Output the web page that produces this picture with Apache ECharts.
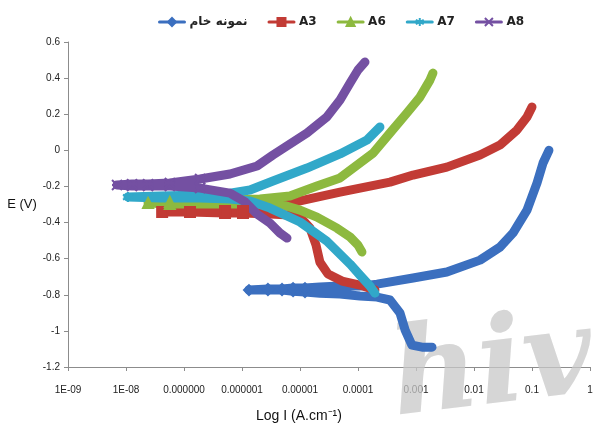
<!DOCTYPE html>
<html>
<head>
<meta charset="utf-8">
<script src="https://cdn.jsdelivr.net/npm/echarts@6/dist/echarts.min.js"></script>
<style>
  html, body { margin: 0; padding: 0; background: #fff; }
  #chart { width: 597px; height: 430px; }
</style>
</head>
<body>
<div id="chart"></div>
<script>
// current density (A.cm-1) and potential (V)
// each curve: cathodic end -> left tip at Ecorr -> anodic end
const rawI = [1.89e-3, 1.27e-3, 8.5e-4, 6.5e-4, 5.3e-4, 3.56e-4, 2.13e-4, 1.08e-4, 4.9e-5, 2.2e-5, 1.22e-5, 7.6e-6, 4.9e-6, 2.8e-6, 1.32e-6,
  2.8e-6, 4.9e-6, 7.6e-6, 1.22e-5, 2.2e-5, 4.9e-5, 1.08e-4, 2.13e-4, 8.9e-4, 3.4e-3, 0.0127, 0.028, 0.047, 0.082, 0.122, 0.155, 0.196];
const rawE = [-1.09, -1.09, -1.079, -0.996, -0.901, -0.829, -0.813, -0.807, -0.796, -0.791, -0.785, -0.78, -0.774, -0.774, -0.774,
  -0.768, -0.768, -0.763, -0.763, -0.757, -0.752, -0.752, -0.741, -0.707, -0.674, -0.608, -0.536, -0.458, -0.331, -0.181, -0.07, 0.0];

const a3I = [1.96e-4, 1.08e-4, 5.3e-5, 3.04e-5, 2.2e-5, 1.89e-5, 1.49e-5, 1.0e-5, 6.7e-6, 3.04e-6, 1.04e-6, 5.1e-7, 1.27e-7, 4.2e-8,
  5.1e-7, 1.04e-6, 3.04e-6, 6.7e-6, 4.9e-5, 3.56e-4, 8.9e-4, 3.4e-3, 0.0127, 0.028, 0.055, 0.082, 0.1];
const a3E = [-0.774, -0.746, -0.724, -0.685, -0.619, -0.525, -0.431, -0.37, -0.358, -0.353, -0.347, -0.347, -0.342, -0.342,
  -0.336, -0.336, -0.325, -0.292, -0.231, -0.176, -0.137, -0.093, -0.026, 0.029, 0.112, 0.184, 0.24];

const a6I = [1.17e-4, 1.0e-4, 7.3e-5, 4.35e-5, 1.96e-5, 1.0e-5, 5.1e-6, 2.04e-6, 6.2e-7, 1.89e-7, 5.7e-8, 2.4e-8,
  5.7e-8, 1.89e-7, 6.2e-7, 2.04e-6, 6.7e-6, 1.96e-5, 4.9e-5, 1.82e-4, 3.56e-4, 7.0e-4, 1.17e-3, 1.74e-3, 1.96e-3];
const a6E = [-0.563, -0.525, -0.48, -0.431, -0.37, -0.331, -0.303, -0.297, -0.297, -0.297, -0.297, -0.292,
  -0.286, -0.281, -0.275, -0.27, -0.253, -0.198, -0.153, -0.015, 0.096, 0.207, 0.295, 0.389, 0.428];

const a7I = [1.96e-4, 1.61e-4, 1.08e-4, 7.3e-5, 2.9e-5, 1.0e-5, 3.04e-6, 1.37e-6, 6.2e-7, 1.89e-7, 3.86e-8, 1.08e-8,
  3.86e-8, 1.89e-7, 6.2e-7, 1.37e-6, 3.42e-6, 1.32e-5, 4.9e-5, 1.43e-4, 2.39e-4];
const a7E = [-0.791, -0.752, -0.691, -0.63, -0.503, -0.397, -0.32, -0.281, -0.27, -0.264, -0.264, -0.259,
  -0.253, -0.248, -0.237, -0.22, -0.17, -0.098, -0.02, 0.057, 0.129];

const a8I = [5.97e-6, 4.5e-6, 3.04e-6, 1.82e-6, 1.13e-6, 6.2e-7, 1.89e-7, 5.7e-8, 2.4e-8, 1.27e-8, 7.0e-9,
  1.27e-8, 2.4e-8, 5.7e-8, 1.89e-7, 6.2e-7, 1.82e-6, 3.42e-6, 1.32e-5, 2.9e-5, 4.9e-5, 7.3e-5, 1.0e-4, 1.32e-4];
const a8E = [-0.486, -0.458, -0.403, -0.353, -0.286, -0.237, -0.209, -0.198, -0.198, -0.198, -0.192,
  -0.187, -0.187, -0.181, -0.159, -0.131, -0.087, -0.026, 0.096, 0.184, 0.279, 0.373, 0.445, 0.489];

const names = ['نمونه خام', 'A3', 'A6', 'A7', 'A8'];
const xLabels = ['1E-09', '1E-08', '0.000000', '0.000001', '0.00001', '0.0001', '0.001', '0.01', '0.1', '1'];

var myChart = echarts.init(document.getElementById('chart'));

// markers only show where the measured points are sparse (low current)
function pts(I, E, upTo, size) {
  return I.map((x, i) => ({ value: [x, E[i]], symbolSize: x < upTo ? size : 0 }));
}

function curve(name, color, symbol, data, size) {
  return {
    name: name,
    type: 'line',
    data: data,
    symbol: symbol,
    symbolSize: size,
    showSymbol: true,
    color: color,
    lineStyle: { width: 9, color: color, cap: 'round', join: 'round' },
    itemStyle: { color: color, borderColor: color, borderWidth: 2 },
    emphasis: { disabled: true },
    z: 3,
    animation: false
  };
}

const star = 'path://M5,0L5,10M0,2.5L10,7.5M0,7.5L10,2.5';
const cross = 'path://M0,0L10,10M0,10L10,0M0,5L10,5';

myChart.setOption({
  animation: false,
  textStyle: { fontFamily: 'Liberation Sans, Arial, sans-serif' },
  legend: {
    left: 153,
    top: 11,
    itemWidth: 25,
    itemHeight: 10,
    itemGap: 20,
    lineStyle: { width: 3 },
    textStyle: { fontSize: 12, fontWeight: 'bold', color: '#222', fontFamily: 'Liberation Sans Narrow, Arial Narrow, DejaVu Sans, sans-serif' },
    data: names
  },
  title: {
    text: 'Log I (A.cm⁻¹)',
    left: 251,
    top: 404,
    textStyle: { fontSize: 14, fontWeight: 'normal', color: '#111', fontFamily: 'Liberation Sans, Arial, sans-serif' }
  },
  grid: { left: 68, right: 7, top: 42, bottom: 63, containLabel: false },
  xAxis: {
    type: 'log',
    logBase: 10,
    min: 1e-9,
    max: 1,
    interval: 1,
    axisLine: { onZero: false, lineStyle: { color: '#8c8c8c', width: 1 } },
    axisTick: { show: true, length: 4, lineStyle: { color: '#8c8c8c' } },
    splitLine: { show: false },
    minorTick: { show: false },
    axisLabel: {
      margin: 18,
      fontSize: 10,
      color: '#222',
      formatter: (v) => xLabels[Math.round(Math.log10(v)) + 9]
    }
  },
  yAxis: {
    type: 'value',
    min: -1.2,
    max: 0.6,
    interval: 0.2,
    name: 'E (V)',
    nameLocation: 'middle',
    nameGap: 28,
    nameRotate: 0,
    nameTextStyle: { fontSize: 13, color: '#111', fontFamily: 'Liberation Sans, Arial, sans-serif', padding: [14, 0, 0, 0] },
    axisLine: { show: true, onZero: false, lineStyle: { color: '#8c8c8c', width: 1 } },
    axisTick: { show: true, length: 4, lineStyle: { color: '#8c8c8c' } },
    splitLine: { show: false },
    axisLabel: {
      margin: 8,
      fontSize: 10,
      color: '#222',
      formatter: (v) => String(Math.round(v * 10) / 10)
    }
  },
  graphic: [{
    type: 'text',
    left: 385,
    top: 300,
    z: 1,
    rotation: 0.12,
    style: {
      text: 'hiv',
      font: 'italic bold 120px DejaVu Serif, serif',
      fill: 'rgba(200,200,200,0.75)'
    }
  }],
  series: [
    curve(names[0], '#3b6fbf', 'diamond', pts(rawI, rawE, 1.5e-5, 10), 10),
    curve(names[1], '#c23b35', 'rect', pts(a3I, a3E, 2e-6, 10), 10),
    curve(names[2], '#8db93f', 'triangle', pts(a6I, a6E, 1e-7, 10), 10),
    curve(names[3], '#31a8c9', star, pts(a7I, a7E, 2e-8, 10), 10),
    curve(names[4], '#7450a2', cross, pts(a8I, a8E, 2e-7, 10), 10)
  ]
});
</script>
</body>
</html>
